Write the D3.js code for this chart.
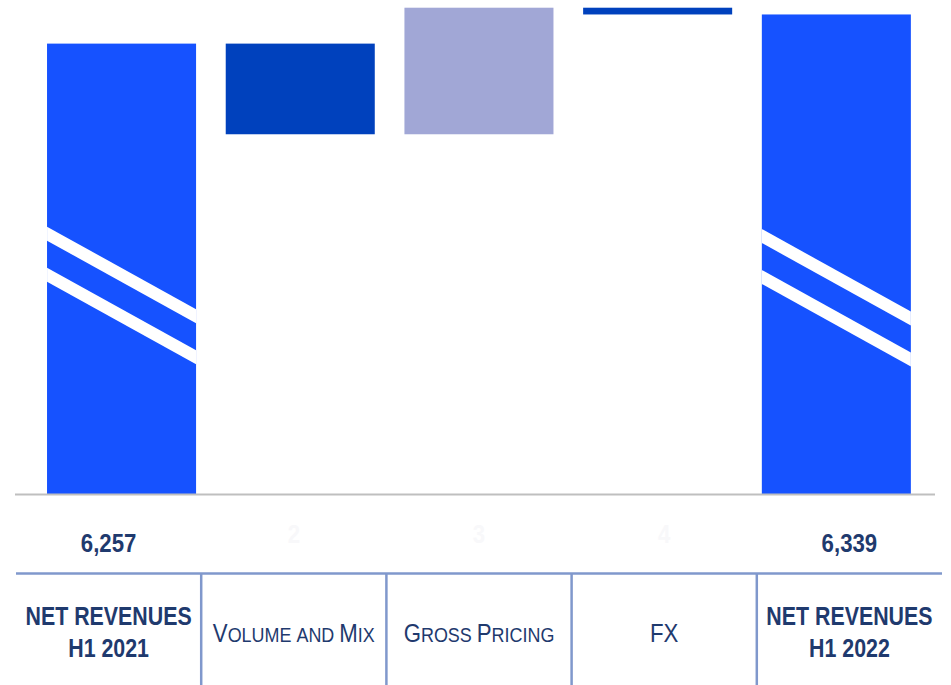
<!DOCTYPE html>
<html>
<head>
<meta charset="utf-8">
<script src="https://cdn.jsdelivr.net/npm/d3@7"></script>
<style>
  html, body { margin: 0; padding: 0; background: #fff; }
  svg { display: block; }
</style>
</head>
<body>
<div id="chart"></div>
<script>
// data of the bridge
const categories = ["NET REVENUES H1 2021", "Volume and Mix", "Gross Pricing", "FX", "NET REVENUES H1 2022"];
const kinds = ["total", "delta", "delta", "delta", "total"];
const values = [6257, -255, 356, -19, 6339];
const valueLabels = ["6,257", "2", "3", "4", "6,339"];
// header lines, the bold ones are on two rows
const headerLines = [["NET REVENUES", "H1 2021"], ["Volume and Mix"], ["Gross Pricing"], ["FX"], ["NET REVENUES", "H1 2022"]];
const boldHeader = [true, false, false, false, true];

const width = 951;
const height = 685;
const baseY = 494;
const textColor = "#1f3a6e";
const sx = 0.855; // the picture is a bit narrow, so text gets squeezed

const barColor = (d, i) => {
  if (d.kind === "total") return "#1652ff";
  return d.value < 0 ? "#0041bd" : "#a1a7d6";
};

// running totals for the floating bars
let running = 0;
const bars = categories.map((c, i) => {
  let y0, y1;
  if (kinds[i] === "total") {
    y0 = null; y1 = values[i];
    running = values[i];
  } else {
    y0 = running;
    running += values[i];
    y1 = running;
  }
  return { cat: c, kind: kinds[i], value: values[i], y0: y0, y1: y1, label: valueLabels[i] };
});

const svg = d3.select("#chart").append("svg")
  .attr("width", width)
  .attr("height", height);

const x = d3.scaleBand()
  .domain(categories)
  .range([32.2, 925.7])
  .paddingInner(0.166)
  .paddingOuter(0.083);

// broken axis, so domain does not start at zero
const y = d3.scaleLinear()
  .domain([4990, 6360])
  .range([baseY, 7]);

const col = d3.scaleBand()
  .domain(categories)
  .range([16, 942]);

// bars
svg.append("g").selectAll("rect")
  .data(bars)
  .join("rect")
  .attr("x", d => x(d.cat))
  .attr("width", x.bandwidth())
  .attr("y", d => d.kind === "total" ? y(d.y1) : y(Math.max(d.y0, d.y1)))
  .attr("height", d => d.kind === "total" ? baseY - y(d.y1) : Math.abs(y(d.y0) - y(d.y1)))
  .attr("fill", barColor);

// break marks on the total bars
const breakTops = { 0: [226.7, 267.7], 4: [229, 270] };
const drop = 82.5, thick = 14;
bars.forEach((d, i) => {
  if (!breakTops[i]) return;
  const x0 = x(d.cat), x1 = x0 + x.bandwidth();
  breakTops[i].forEach(t => {
    svg.append("polygon")
      .attr("points", [[x0, t], [x1, t + drop], [x1, t + drop + thick], [x0, t + thick]].map(p => p.join(",")).join(" "))
      .attr("fill", "#fff");
  });
});

// baseline
svg.append("line")
  .attr("x1", 15).attr("x2", 935)
  .attr("y1", baseY + 0.5).attr("y2", baseY + 0.5)
  .attr("stroke", "#bfbfbf")
  .attr("stroke-width", 2);

// value labels, the middle ones are almost invisible
svg.append("g").selectAll("text")
  .data(bars)
  .join("text")
  .attr("transform", d => `translate(${col(d.cat) + col.bandwidth() / 2},${d.kind === "total" ? 552 : 543}) scale(${sx},1)`)
  .attr("text-anchor", "middle")
  .attr("font-family", "Liberation Sans, Arial, sans-serif")
  .attr("font-weight", "bold")
  .attr("font-size", 26)
  .attr("fill", d => d.kind === "total" ? textColor : "#f8f8fa")
  .text(d => d.label);

// table lines
const tableTop = 573.5;
svg.append("line")
  .attr("x1", 16).attr("x2", 942)
  .attr("y1", tableTop).attr("y2", tableTop)
  .attr("stroke", "#8098cc")
  .attr("stroke-width", 2.5);
svg.append("g").selectAll("line")
  .data(categories.slice(1))
  .join("line")
  .attr("x1", d => col(d)).attr("x2", d => col(d))
  .attr("y1", tableTop).attr("y2", height)
  .attr("stroke", "#8098cc")
  .attr("stroke-width", 2.5);

// small caps like powerpoint does it
const smallCaps = (text, str, big, small) => {
  str.split(" ").forEach((w, wi) => {
    if (wi > 0) text.append("tspan").attr("font-size", small).text(" ");
    if (w === w.toUpperCase()) {
      // already all capitals (FX)
      text.append("tspan").attr("font-size", big).text(w);
      return;
    }
    const first = w[0];
    if (first === first.toUpperCase()) {
      text.append("tspan").attr("font-size", big).text(first);
      if (w.length > 1) text.append("tspan").attr("font-size", small).text(w.slice(1).toUpperCase());
    } else {
      text.append("tspan").attr("font-size", small).text(w.toUpperCase());
    }
  });
};

categories.forEach((c, i) => {
  const cx = col(c) + col.bandwidth() / 2;
  const lines = headerLines[i];
  if (boldHeader[i]) {
    lines.forEach((l, li) => {
      svg.append("text")
        .attr("transform", `translate(${cx},${625 + li * 32}) scale(${sx},1)`)
        .attr("text-anchor", "middle")
        .attr("font-family", "Liberation Sans, Arial, sans-serif")
        .attr("font-weight", "bold")
        .attr("font-size", 25)
        .attr("fill", textColor)
        .text(l);
    });
  } else {
    const t = svg.append("text")
      .attr("transform", `translate(${cx},641.5) scale(${sx},1)`)
      .attr("text-anchor", "middle")
      .attr("font-family", "Liberation Sans, Arial, sans-serif")
      .attr("fill", textColor);
    smallCaps(t, lines[0], 26, 21);
  }
});
</script>
</body>
</html>
